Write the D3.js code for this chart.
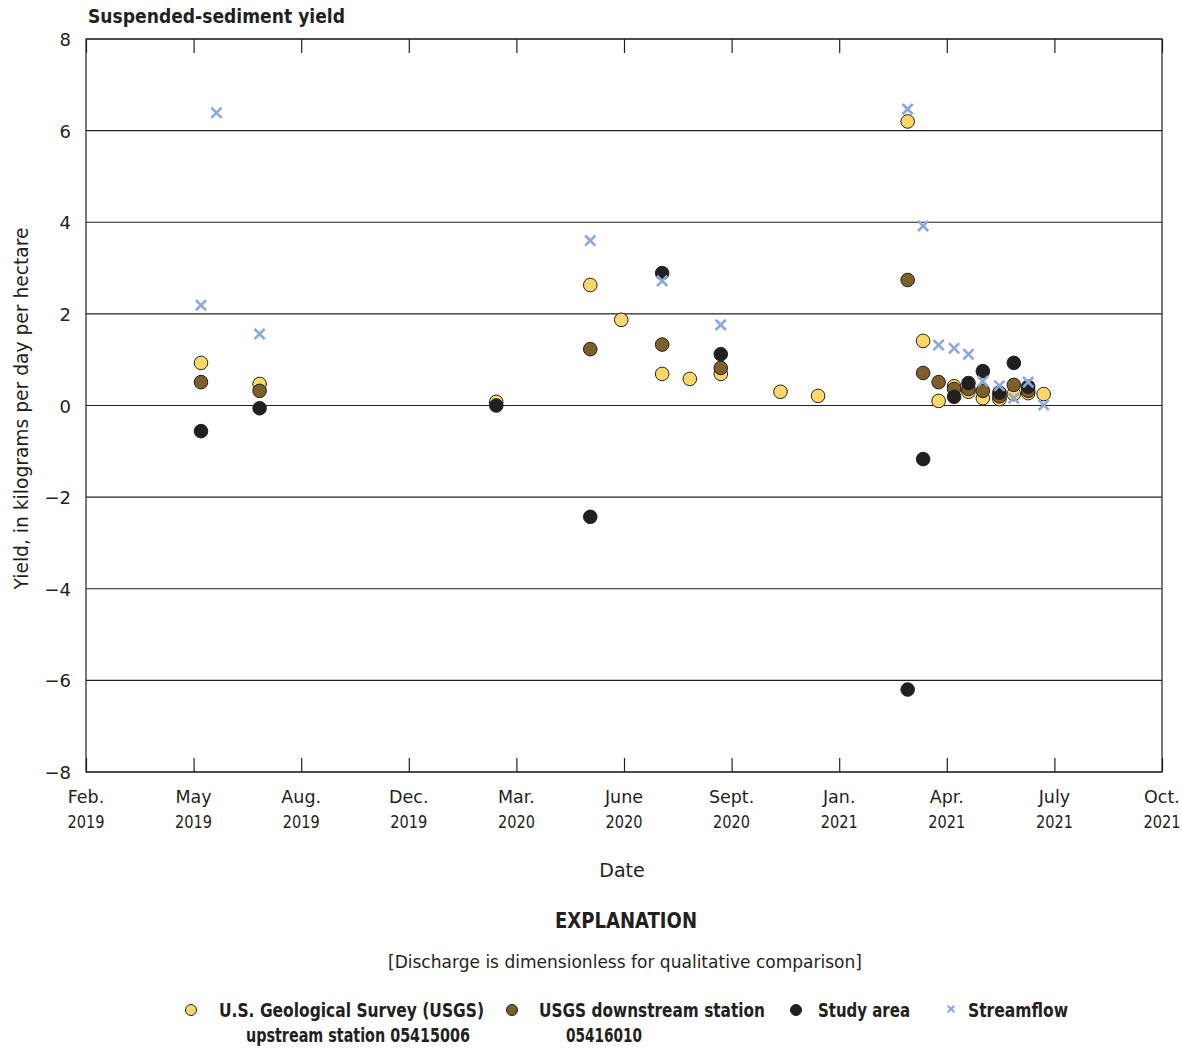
<!DOCTYPE html>
<html>
<head>
<meta charset="utf-8">
<script src="https://cdn.jsdelivr.net/npm/d3@7"></script>
<style>
  body { margin: 0; background: #fff; }
  svg text { font-family: "DejaVu Sans", sans-serif; fill: #231f20; }
  .grid line { stroke: #231f20; stroke-width: 1.2; }
  .bold { font-weight: bold; }
</style>
</head>
<body>
<div id="chart"></div>
<script>
// Data
var upstream = [
  ["2019-05-16", 0.93], ["2019-07-08", 0.47], ["2020-02-07", 0.08], ["2020-05-02", 2.63],
  ["2020-05-30", 1.87], ["2020-07-06", 0.69], ["2020-07-31", 0.58], ["2020-08-28", 0.69],
  ["2020-10-21", 0.30], ["2020-11-24", 0.21], ["2021-02-13", 6.20], ["2021-02-27", 1.41],
  ["2021-03-13", 0.10], ["2021-03-27", 0.42], ["2021-04-09", 0.30], ["2021-04-22", 0.16],
  ["2021-05-07", 0.14], ["2021-05-20", 0.25], ["2021-06-02", 0.27], ["2021-06-16", 0.25]
];
var downstream = [
  ["2019-05-16", 0.51], ["2019-07-08", 0.32], ["2020-05-02", 1.23], ["2020-07-06", 1.33],
  ["2020-08-28", 0.82], ["2021-02-13", 2.74], ["2021-02-27", 0.71], ["2021-03-13", 0.51],
  ["2021-03-27", 0.36], ["2021-04-09", 0.36], ["2021-04-22", 0.32], ["2021-05-07", 0.20],
  ["2021-05-20", 0.45], ["2021-06-02", 0.32]
];
var studyArea = [
  ["2019-05-16", -0.56], ["2019-07-08", -0.06], ["2020-02-07", 0.00], ["2020-05-02", -2.43],
  ["2020-07-06", 2.89], ["2020-08-28", 1.12], ["2021-02-13", -6.20], ["2021-02-27", -1.17],
  ["2021-03-27", 0.19], ["2021-04-09", 0.49], ["2021-04-22", 0.75], ["2021-05-07", 0.28],
  ["2021-05-20", 0.93], ["2021-06-02", 0.41]
];
var streamflow = [
  ["2019-05-16", 2.19], ["2019-05-30", 6.39], ["2019-07-08", 1.56], ["2020-05-02", 3.60],
  ["2020-07-06", 2.72], ["2020-08-28", 1.76], ["2021-02-13", 6.47], ["2021-02-27", 3.92],
  ["2021-03-13", 1.32], ["2021-03-27", 1.25], ["2021-04-09", 1.12], ["2021-04-22", 0.53],
  ["2021-05-07", 0.43], ["2021-05-20", 0.16], ["2021-06-02", 0.51], ["2021-06-16", 0.01]
];
var xTickLabels = [
  ["Feb.", "2019"], ["May", "2019"], ["Aug.", "2019"], ["Dec.", "2019"], ["Mar.", "2020"],
  ["June", "2020"], ["Sept.", "2020"], ["Jan.", "2021"], ["Apr.", "2021"], ["July", "2021"], ["Oct.", "2021"]
];
var yTicks = [-8, -6, -4, -2, 0, 2, 4, 6, 8];

var width = 1182, height = 1048;
var margin = { top: 39, right: 20, bottom: 276, left: 86 };
var plotW = width - margin.left - margin.right;
var plotH = height - margin.top - margin.bottom;

var parse = d3.timeParse("%Y-%m-%d");
var start = parse("2019-02-01"), end = parse("2021-10-01");

var svg = d3.select("#chart").append("svg")
  .attr("width", width)
  .attr("height", height);

var g = svg.append("g")
  .attr("transform", "translate(" + margin.left + "," + margin.top + ")");

var xScale = d3.scaleTime().domain([start, end]).range([0, plotW]);
var yScale = d3.scaleLinear().domain([-8, 8]).range([plotH, 0]);

// evenly spaced date ticks, as in the original axis
var xTickDates = xTickLabels.map(function(d, i) {
  return new Date(start.getTime() + (end - start) * i / (xTickLabels.length - 1));
});

// horizontal gridlines
g.append("g")
  .attr("class", "grid")
  .selectAll("line")
  .data(yTicks)
  .enter()
  .append("line")
  .attr("x1", 0).attr("x2", plotW)
  .attr("y1", function(d) { return yScale(d); })
  .attr("y2", function(d) { return yScale(d); });

// frame
g.append("rect")
  .attr("width", plotW).attr("height", plotH)
  .attr("fill", "none").attr("stroke", "#231f20").attr("stroke-width", 1.2);

// bottom + top axes with inward ticks
var xAxis = d3.axisBottom(xScale).tickValues(xTickDates).tickSize(-14).tickFormat("");
var xAxisG = g.append("g")
  .attr("transform", "translate(0," + plotH + ")")
  .call(xAxis);
xAxisG.select(".domain").remove();
xAxisG.selectAll("line").attr("stroke", "#231f20").attr("stroke-width", 1.2);

var xAxisTop = d3.axisTop(xScale).tickValues(xTickDates).tickSize(-14).tickFormat("");
var xAxisTopG = g.append("g").call(xAxisTop);
xAxisTopG.select(".domain").remove();
xAxisTopG.selectAll("line").attr("stroke", "#231f20").attr("stroke-width", 1.2);

// x tick labels (two lines)
var xl = g.append("g").selectAll("text")
  .data(xTickLabels)
  .enter()
  .append("text")
  .attr("text-anchor", "middle")
  .attr("x", function(d, i) { return xScale(xTickDates[i]); })
  .attr("y", plotH + 31)
  .style("font-size", "17.5px");
xl.append("tspan").text(function(d) { return d[0]; });
xl.append("tspan")
  .attr("x", function(d, i) { return xScale(xTickDates[i]); })
  .attr("dy", 25)
  .attr("textLength", 37).attr("lengthAdjust", "spacingAndGlyphs")
  .text(function(d) { return d[1]; });

// y tick labels
g.append("g").selectAll("text")
  .data(yTicks)
  .enter()
  .append("text")
  .attr("text-anchor", "end")
  .attr("x", -15)
  .attr("y", function(d) { return yScale(d) + 7; })
  .style("font-size", "18px")
  .text(function(d) { return d < 0 ? "\u2212" + Math.abs(d) : d; });

// title
svg.append("text")
  .attr("class", "bold")
  .attr("x", 88).attr("y", 23)
  .attr("textLength", 257).attr("lengthAdjust", "spacingAndGlyphs")
  .style("font-size", "20px")
  .text("Suspended-sediment yield");

// y label
svg.append("text")
  .attr("transform", "translate(28," + (margin.top + plotH / 2 + 3) + ") rotate(-90)")
  .attr("text-anchor", "middle")
  .attr("textLength", 362).attr("lengthAdjust", "spacingAndGlyphs")
  .style("font-size", "20px")
  .text("Yield, in kilograms per day per hectare");

// x label
svg.append("text")
  .attr("x", 622).attr("y", 877)
  .attr("text-anchor", "middle")
  .style("font-size", "19px")
  .text("Date");

var colors = { upstream: "#fdd868", downstream: "#7d5f2a", study: "#231f20", flow: "#8ca7db" };

function drawCircles(data, color) {
  g.append("g").selectAll("circle")
    .data(data)
    .enter()
    .append("circle")
    .attr("cx", function(d) { return xScale(parse(d[0])); })
    .attr("cy", function(d) { return yScale(d[1]); })
    .attr("r", 6.8)
    .attr("fill", color)
    .attr("stroke", "#231f20")
    .attr("stroke-width", 1);
}
drawCircles(upstream, colors.upstream);
drawCircles(downstream, colors.downstream);
drawCircles(studyArea, colors.study);

var cross = d3.symbol().type(d3.symbolX).size(70);
g.append("g").selectAll("path")
  .data(streamflow)
  .enter()
  .append("path")
  .attr("d", cross)
  .attr("transform", function(d) { return "translate(" + xScale(parse(d[0])) + "," + yScale(d[1]) + ")"; })
  .attr("fill", "none")
  .attr("stroke", colors.flow)
  .attr("stroke-width", 2.6);

// explanation
svg.append("text")
  .attr("class", "bold")
  .attr("x", 555).attr("y", 928)
  .attr("textLength", 142).attr("lengthAdjust", "spacingAndGlyphs")
  .style("font-size", "22px")
  .text("EXPLANATION");

svg.append("text")
  .attr("x", 388).attr("y", 968)
  .attr("textLength", 474).attr("lengthAdjust", "spacingAndGlyphs")
  .style("font-size", "18.5px")
  .text("[Discharge is dimensionless for qualitative comparison]");

var legendItems = [
  { type: "circle", color: colors.upstream, x: 191, tx: 219, lines: ["U.S. Geological Survey (USGS)", "upstream station 05415006"], w: [265, 224] },
  { type: "circle", color: colors.downstream, x: 512, tx: 539, lines: ["USGS downstream station", "05416010"], w: [226, 76] },
  { type: "circle", color: colors.study, x: 796, tx: 818, lines: ["Study area"], w: [92] },
  { type: "cross", color: colors.flow, x: 951, tx: 968, lines: ["Streamflow"], w: [100] }
];

var legend = svg.append("g").attr("transform", "translate(0,1010)");
legendItems.forEach(function(item) {
  if (item.type === "circle") {
    legend.append("circle")
      .attr("cx", item.x).attr("cy", 0).attr("r", 5.5)
      .attr("fill", item.color).attr("stroke", "#231f20").attr("stroke-width", 1);
  } else {
    legend.append("path")
      .attr("d", d3.symbol().type(d3.symbolX).size(30))
      .attr("transform", "translate(" + item.x + ",-1)")
      .attr("fill", "none").attr("stroke", item.color).attr("stroke-width", 2.2);
  }
  item.lines.forEach(function(line, i) {
    legend.append("text")
      .attr("class", "bold")
      .attr("x", item.tx + (i ? 27 : 0)).attr("y", 7 + i * 25)
      .attr("textLength", item.w[i]).attr("lengthAdjust", "spacingAndGlyphs")
      .style("font-size", "19px")
      .text(line);
  });
});
</script>
</body>
</html>
